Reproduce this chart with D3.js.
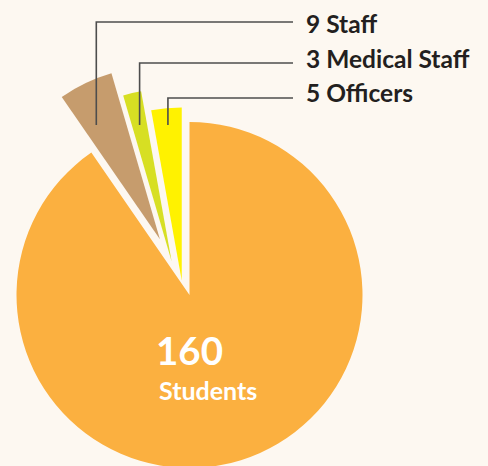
<!DOCTYPE html>
<html>
<head>
<meta charset="utf-8">
<script src="https://cdn.jsdelivr.net/npm/d3@7"></script>
<style>
  html, body { margin: 0; padding: 0; background: #fdf8f1; }
  svg { display: block; }
</style>
</head>
<body>
<div id="chart"></div>
<script>
// chart values
const categories = ["Students", "Staff", "Medical Staff", "Officers"];
const counts = [160, 9, 3, 5];
const colors = ["#fbb040", "#c69c6d", "#d7df23", "#fff200"];
// how far each slice is pulled out of the pie
const explode = [0, 63, 38, 16.5];

const width = 488, height = 466;
const cx = 189.5, cy = 295, radius = 173;
const explodeDir = -28 * Math.PI / 180;   // all slices are pushed up-left along the same direction

// label rows (top right) : baseline of text, y of the leader line, where the line enters the slice
const labelRows = [
  {idx: 1, textY: 33, lineY: 22, frac: 0.3},
  {idx: 2, textY: 68, lineY: 63, frac: 0.5},
  {idx: 3, textY: 102, lineY: 98, frac: 0.5}
];
const anchorY = 125;
const lineEndX = 293, textX = 306;
const font = "Lato, 'Open Sans', sans-serif";

const svg = d3.select("#chart")
  .append("svg")
  .attr("width", width)
  .attr("height", height);

svg.append("rect")
  .attr("width", width)
  .attr("height", height)
  .attr("fill", "#fdf8f1");

const pie = d3.pie()
  .sort(null)
  .value(d => d)
  .startAngle(0)
  .endAngle(2 * Math.PI);

const arcs = pie(counts);

const arc = d3.arc()
  .innerRadius(0)
  .outerRadius(radius);

const offset = (i) => [explode[i] * Math.sin(explodeDir), -explode[i] * Math.cos(explodeDir)];

const g = svg.append("g")
  .attr("transform", "translate(" + cx + "," + cy + ")");

g.selectAll("path")
  .data(arcs)
  .join("path")
  .attr("transform", (d, i) => "translate(" + offset(i)[0] + "," + offset(i)[1] + ")")
  .attr("d", arc)
  .attr("fill", (d, i) => colors[i]);

// leader lines from the small slices to the labels
labelRows.forEach((row) => {
  const a = arcs[row.idx];
  const ang = a.startAngle + (a.endAngle - a.startAngle) * row.frac;
  const [ox, oy] = offset(row.idx);
  const dy = (anchorY - cy) - oy;
  const ax = cx + ox + (-dy) * Math.tan(ang);

  svg.append("path")
    .attr("d", "M" + ax + "," + anchorY + "V" + row.lineY + "H" + lineEndX)
    .attr("fill", "none")
    .attr("stroke", "#4d4d4d")
    .attr("stroke-width", 1.6);

  svg.append("text")
    .attr("x", textX)
    .attr("y", row.textY)
    .attr("font-family", font)
    .attr("font-weight", 700)
    .attr("font-size", 24.5)
    .attr("fill", "#231f20")
    .text(counts[row.idx] + " " + categories[row.idx]);
});

// big label inside the students slice
svg.append("text")
  .attr("x", 156)
  .attr("y", 365)
  .attr("font-family", font)
  .attr("font-weight", 700)
  .attr("font-size", 38.5)
  .attr("fill", "#ffffff")
  .text(counts[0]);

svg.append("text")
  .attr("x", 159)
  .attr("y", 400)
  .attr("font-family", font)
  .attr("font-weight", 700)
  .attr("font-size", 25)
  .attr("fill", "#ffffff")
  .text(categories[0]);
</script>
</body>
</html>
